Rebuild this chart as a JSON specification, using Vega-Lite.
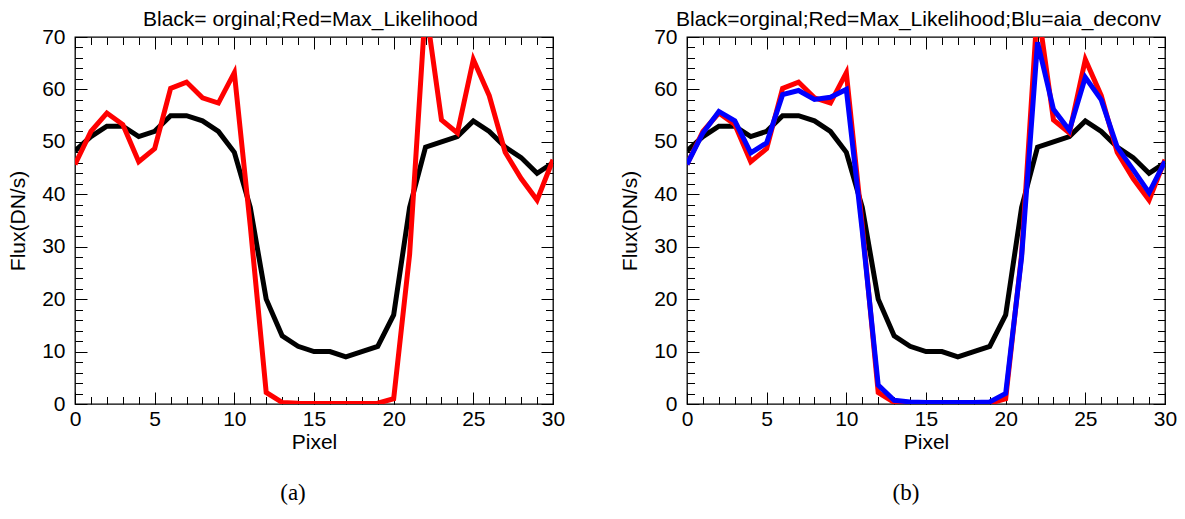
{
  "$schema": "https://vega.github.io/schema/vega-lite/v6.json",
  "padding": {"left": 6, "top": 7, "right": 0, "bottom": 0},
  "spacing": 52,
  "datasets": {
    "orig": [
      {"pixel": 0, "flux": 48.3}, {"pixel": 1, "flux": 51}, {"pixel": 2, "flux": 53}, {"pixel": 3, "flux": 53},
      {"pixel": 4, "flux": 51}, {"pixel": 5, "flux": 52}, {"pixel": 6, "flux": 55}, {"pixel": 7, "flux": 55},
      {"pixel": 8, "flux": 54}, {"pixel": 9, "flux": 52}, {"pixel": 10, "flux": 48}, {"pixel": 11, "flux": 37.5},
      {"pixel": 12, "flux": 20}, {"pixel": 13, "flux": 13}, {"pixel": 14, "flux": 11}, {"pixel": 15, "flux": 10},
      {"pixel": 16, "flux": 10}, {"pixel": 17, "flux": 9}, {"pixel": 18, "flux": 10}, {"pixel": 19, "flux": 11},
      {"pixel": 20, "flux": 17}, {"pixel": 21, "flux": 37.5}, {"pixel": 22, "flux": 49}, {"pixel": 23, "flux": 50},
      {"pixel": 24, "flux": 51}, {"pixel": 25, "flux": 54}, {"pixel": 26, "flux": 52}, {"pixel": 27, "flux": 49},
      {"pixel": 28, "flux": 47}, {"pixel": 29, "flux": 44}, {"pixel": 30, "flux": 46}
    ],
    "ml": [
      {"pixel": 0, "flux": 45.7}, {"pixel": 1, "flux": 52}, {"pixel": 2, "flux": 55.5}, {"pixel": 3, "flux": 53.3},
      {"pixel": 4, "flux": 46.2}, {"pixel": 5, "flux": 48.7}, {"pixel": 6, "flux": 60.2}, {"pixel": 7, "flux": 61.4},
      {"pixel": 8, "flux": 58.4}, {"pixel": 9, "flux": 57.4}, {"pixel": 10, "flux": 63.2}, {"pixel": 11, "flux": 34},
      {"pixel": 12, "flux": 2.2}, {"pixel": 13, "flux": 0.3}, {"pixel": 14, "flux": 0.15}, {"pixel": 15, "flux": 0.1},
      {"pixel": 16, "flux": 0.1}, {"pixel": 17, "flux": 0.1}, {"pixel": 18, "flux": 0.1}, {"pixel": 19, "flux": 0.15},
      {"pixel": 20, "flux": 1.0}, {"pixel": 21, "flux": 28.5}, {"pixel": 22, "flux": 76}, {"pixel": 23, "flux": 54.2},
      {"pixel": 24, "flux": 51.7}, {"pixel": 25, "flux": 65.7}, {"pixel": 26, "flux": 58.8}, {"pixel": 27, "flux": 48},
      {"pixel": 28, "flux": 43}, {"pixel": 29, "flux": 38.9}, {"pixel": 30, "flux": 46.6}
    ],
    "deconv": [
      {"pixel": 0, "flux": 45.7}, {"pixel": 1, "flux": 51.7}, {"pixel": 2, "flux": 55.8}, {"pixel": 3, "flux": 54},
      {"pixel": 4, "flux": 47.9}, {"pixel": 5, "flux": 49.8}, {"pixel": 6, "flux": 59}, {"pixel": 7, "flux": 59.8},
      {"pixel": 8, "flux": 58.1}, {"pixel": 9, "flux": 58.5}, {"pixel": 10, "flux": 60}, {"pixel": 11, "flux": 33},
      {"pixel": 12, "flux": 3.6}, {"pixel": 13, "flux": 0.7}, {"pixel": 14, "flux": 0.4}, {"pixel": 15, "flux": 0.3},
      {"pixel": 16, "flux": 0.3}, {"pixel": 17, "flux": 0.3}, {"pixel": 18, "flux": 0.3}, {"pixel": 19, "flux": 0.4},
      {"pixel": 20, "flux": 2}, {"pixel": 21, "flux": 28}, {"pixel": 22, "flux": 69}, {"pixel": 23, "flux": 56.2},
      {"pixel": 24, "flux": 52.2}, {"pixel": 25, "flux": 62.3}, {"pixel": 26, "flux": 58}, {"pixel": 27, "flux": 49},
      {"pixel": 28, "flux": 44.7}, {"pixel": 29, "flux": 40.3}, {"pixel": 30, "flux": 46.3}
    ]
  },
  "hconcat": [
    {
      "width": 478,
      "height": 367,
      "title": {"text": "(a)", "orient": "bottom", "anchor": "middle", "frame": "group", "dx": -21, "offset": 29, "font": "Liberation Serif", "fontSize": 23, "fontWeight": "normal", "color": "#000"},
      "resolve": {"axis": {"x": "independent", "y": "independent"}},
      "layer": [
        {
          "data": {"name": "orig"},
          "mark": {"type": "line", "strokeOpacity": 0},
          "encoding": {
            "x": {"field": "pixel", "type": "quantitative", "scale": {"domain": [0, 30], "nice": false},
              "axis": {"orient": "bottom", "values": [0,1,2,3,4,5,6,7,8,9,10,11,12,13,14,15,16,17,18,19,20,21,22,23,24,25,26,27,28,29,30], "tickSize": -7.5, "labels": false, "title": null, "minExtent": 0}},
            "y": {"field": "flux", "type": "quantitative", "scale": {"domain": [0, 70], "nice": false},
              "axis": {"orient": "left", "values": [0,2,4,6,8,10,12,14,16,18,20,22,24,26,28,30,32,34,36,38,40,42,44,46,48,50,52,54,56,58,60,62,64,66,68,70], "tickSize": -7.5, "labels": false, "title": null, "minExtent": 0}}
          }
        },
        {
          "data": {"name": "orig"},
          "mark": {"type": "line", "strokeOpacity": 0},
          "encoding": {
            "x": {"field": "pixel", "type": "quantitative",
              "axis": {"orient": "top", "values": [0,1,2,3,4,5,6,7,8,9,10,11,12,13,14,15,16,17,18,19,20,21,22,23,24,25,26,27,28,29,30], "tickSize": -7.5, "labels": false, "title": null, "minExtent": 0}},
            "y": {"field": "flux", "type": "quantitative",
              "axis": {"orient": "right", "values": [0,2,4,6,8,10,12,14,16,18,20,22,24,26,28,30,32,34,36,38,40,42,44,46,48,50,52,54,56,58,60,62,64,66,68,70], "tickSize": -7.5, "labels": false, "title": null, "minExtent": 0}}
          }
        },
        {
          "data": {"name": "orig"},
          "mark": {"type": "line", "color": "#000000", "strokeWidth": 5, "clip": true},
          "encoding": {
            "x": {"field": "pixel", "type": "quantitative",
              "axis": {"orient": "bottom", "values": [0, 5, 10, 15, 20, 25, 30], "tickSize": -12, "labelPadding": 16.5, "labelFlush": false, "title": "Pixel", "titlePadding": 2}},
            "y": {"field": "flux", "type": "quantitative",
              "axis": {"orient": "left", "values": [0, 10, 20, 30, 40, 50, 60, 70], "tickSize": -12, "labelPadding": 22, "labelFlush": false, "title": "Flux(DN/s)", "titlePadding": 13}}
          }
        },
        {
          "data": {"name": "ml"},
          "mark": {"type": "line", "color": "#ff0000", "strokeWidth": 5, "clip": true},
          "encoding": {
            "x": {"field": "pixel", "type": "quantitative",
              "axis": {"orient": "top", "values": [0, 5, 10, 15, 20, 25, 30], "tickSize": -12, "labels": false, "title": "Black= orginal;Red=Max_Likelihood", "titleX": 235, "titlePadding": 7, "minExtent": 0}},
            "y": {"field": "flux", "type": "quantitative",
              "axis": {"orient": "right", "values": [0, 10, 20, 30, 40, 50, 60, 70], "tickSize": -12, "labels": false, "title": null, "minExtent": 0}}
          }
        }
      ]
    },
    {
      "width": 478,
      "height": 367,
      "title": {"text": "(b)", "orient": "bottom", "anchor": "middle", "frame": "group", "dx": -20, "offset": 29, "font": "Liberation Serif", "fontSize": 23, "fontWeight": "normal", "color": "#000"},
      "resolve": {"axis": {"x": "independent", "y": "independent"}},
      "layer": [
        {
          "data": {"name": "orig"},
          "mark": {"type": "line", "strokeOpacity": 0},
          "encoding": {
            "x": {"field": "pixel", "type": "quantitative", "scale": {"domain": [0, 30], "nice": false},
              "axis": {"orient": "bottom", "values": [0,1,2,3,4,5,6,7,8,9,10,11,12,13,14,15,16,17,18,19,20,21,22,23,24,25,26,27,28,29,30], "tickSize": -7.5, "labels": false, "title": null, "minExtent": 0}},
            "y": {"field": "flux", "type": "quantitative", "scale": {"domain": [0, 70], "nice": false},
              "axis": {"orient": "left", "values": [0,2,4,6,8,10,12,14,16,18,20,22,24,26,28,30,32,34,36,38,40,42,44,46,48,50,52,54,56,58,60,62,64,66,68,70], "tickSize": -7.5, "labels": false, "title": null, "minExtent": 0}}
          }
        },
        {
          "data": {"name": "orig"},
          "mark": {"type": "line", "strokeOpacity": 0},
          "encoding": {
            "x": {"field": "pixel", "type": "quantitative",
              "axis": {"orient": "top", "values": [0,1,2,3,4,5,6,7,8,9,10,11,12,13,14,15,16,17,18,19,20,21,22,23,24,25,26,27,28,29,30], "tickSize": -7.5, "labels": false, "title": null, "minExtent": 0}},
            "y": {"field": "flux", "type": "quantitative",
              "axis": {"orient": "right", "values": [0,2,4,6,8,10,12,14,16,18,20,22,24,26,28,30,32,34,36,38,40,42,44,46,48,50,52,54,56,58,60,62,64,66,68,70], "tickSize": -7.5, "labels": false, "title": null, "minExtent": 0}}
          }
        },
        {
          "data": {"name": "orig"},
          "mark": {"type": "line", "color": "#000000", "strokeWidth": 5, "clip": true},
          "encoding": {
            "x": {"field": "pixel", "type": "quantitative",
              "axis": {"orient": "bottom", "values": [0, 5, 10, 15, 20, 25, 30], "tickSize": -12, "labelPadding": 16.5, "labelFlush": false, "title": "Pixel", "titlePadding": 2}},
            "y": {"field": "flux", "type": "quantitative",
              "axis": {"orient": "left", "values": [0, 10, 20, 30, 40, 50, 60, 70], "tickSize": -12, "labelPadding": 22, "labelFlush": false, "title": "Flux(DN/s)", "titlePadding": 13}}
          }
        },
        {
          "data": {"name": "ml"},
          "mark": {"type": "line", "color": "#ff0000", "strokeWidth": 5, "clip": true},
          "encoding": {
            "x": {"field": "pixel", "type": "quantitative",
              "axis": {"orient": "top", "values": [0, 5, 10, 15, 20, 25, 30], "tickSize": -12, "labels": false, "title": "Black=orginal;Red=Max_Likelihood;Blu=aia_deconv", "titleX": 231, "titlePadding": 7, "minExtent": 0}},
            "y": {"field": "flux", "type": "quantitative",
              "axis": {"orient": "right", "values": [0, 10, 20, 30, 40, 50, 60, 70], "tickSize": -12, "labels": false, "title": null, "minExtent": 0}}
          }
        },
        {
          "data": {"name": "deconv"},
          "mark": {"type": "line", "color": "#0000ff", "strokeWidth": 5, "clip": true},
          "encoding": {
            "x": {"field": "pixel", "type": "quantitative", "axis": null},
            "y": {"field": "flux", "type": "quantitative", "axis": null}
          }
        }
      ]
    }
  ],
  "config": {
    "font": "Liberation Sans",
    "view": {"stroke": "#000000", "strokeWidth": 1.3},
    "axis": {
      "domain": false, "grid": false, "tickColor": "#000000", "tickWidth": 1,
      "labelFont": "Liberation Sans", "labelFontSize": 21, "labelColor": "#000000",
      "titleFont": "Liberation Sans", "titleFontSize": 21, "titleFontWeight": "normal", "titleColor": "#000000"
    }
  }
}
